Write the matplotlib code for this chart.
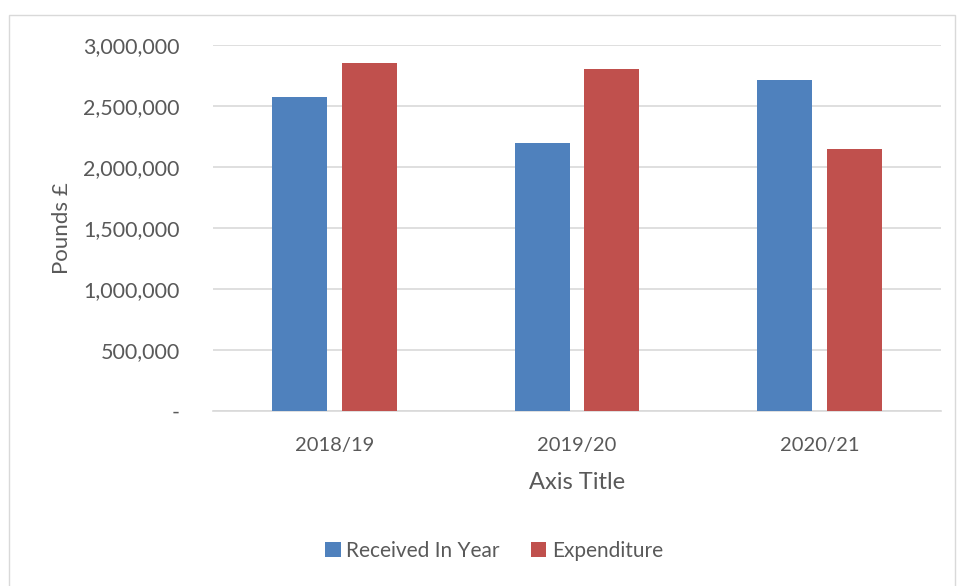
import matplotlib
matplotlib.use("Agg")
import matplotlib.pyplot as plt
import numpy as np
from matplotlib.patches import Rectangle

categories = ["2018/19", "2019/20", "2020/21"]
received = [2575000, 2200000, 2715000]
expenditure = [2850000, 2805000, 2150000]
series_names = ["Received In Year", "Expenditure"]
yticks = [0, 500000, 1000000, 1500000, 2000000, 2500000, 3000000]

plt.rcParams['font.family'] = ['Lato', 'DejaVu Sans']
txt = '#595959'
blue = '#4f81bd'
red = '#c0504d'

fig = plt.figure(figsize=(9.57, 5.86), dpi=100)
fig.patches.append(Rectangle((9/957, -0.01), 946/957, 1 - 15/586 + 0.01, transform=fig.transFigure,
                             fill=False, edgecolor='#d9d9d9', linewidth=1))
ax = fig.add_axes([213/957, 1 - 411/586, (941-213)/957, (411-45)/586])

x = np.arange(len(categories))
w = 0.227
off = 0.144
ax.bar(x - off, received, w, color=blue, label=series_names[0], zorder=3)
ax.bar(x + off, expenditure, w, color=red, label=series_names[1], zorder=3)

ax.set_xlim(-0.5, 2.5)
ax.set_ylim(0, 3000000)
ax.set_yticks(yticks)
ax.set_yticklabels(['-' if v == 0 else f"{v:,}" for v in yticks])
ax.set_xticks(x)
ax.set_xticklabels(categories)
ax.grid(axis='y', color='#d9d9d9', linewidth=1.2, zorder=0)
for s in ['top', 'right', 'left']:
    ax.spines[s].set_visible(False)
ax.spines['bottom'].set_color('#d9d9d9')
ax.spines['bottom'].set_linewidth(1.2)
ax.tick_params(axis='y', length=0, colors=txt, labelsize=15.5, pad=24)
ax.tick_params(axis='x', length=0, colors=txt, labelsize=14.5, pad=19)
ax.set_ylabel("Pounds £", fontsize=16, color=txt, labelpad=8)
ax.set_xlabel("Axis Title", fontsize=17, color=txt, labelpad=13)

leg = fig.legend(loc='center', bbox_to_anchor=(494/957, 1 - 551/586), ncol=2, frameon=False,
                 fontsize=15, handlelength=0.75, handleheight=0.75, handletextpad=0.25, columnspacing=1.5)
for t in leg.get_texts():
    t.set_color(txt)

fig.savefig("out.png", dpi=100)
